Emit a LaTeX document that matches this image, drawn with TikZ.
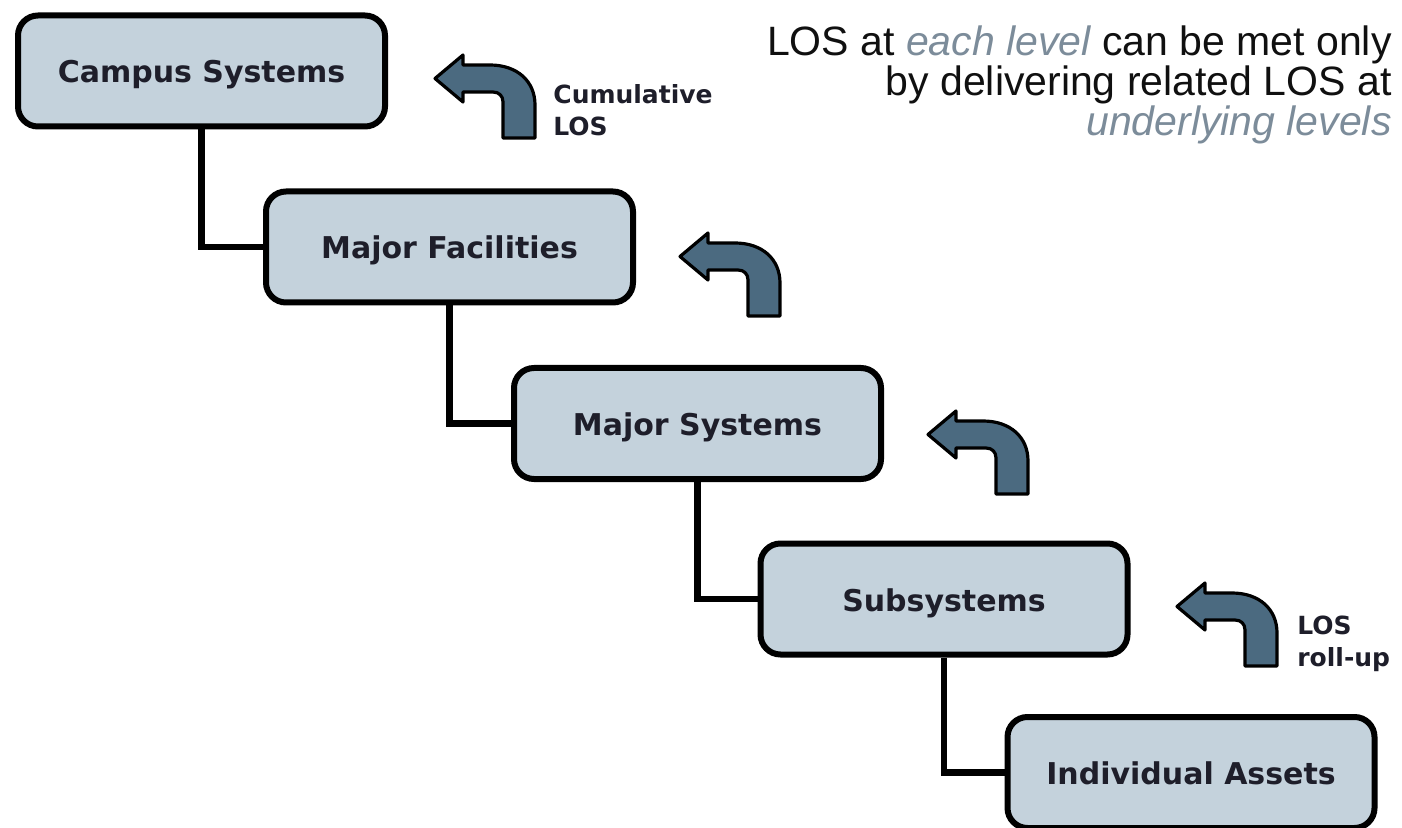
\documentclass[tikz,border=0pt]{standalone}
\usepackage{fontspec}
\setmainfont{DejaVu Sans}
\newfontfamily\headfont{Liberation Sans}
\definecolor{boxfill}{HTML}{C4D2DC}
\definecolor{arrowfill}{HTML}{4B6A80}
\definecolor{labeltext}{HTML}{1E1E2A}
\definecolor{accent}{HTML}{7C8C9A}
\definecolor{headtext}{HTML}{101010}
\begin{document}
\begin{tikzpicture}[x=0.5pt,y=-0.5pt,
  level/.style={draw=black, line width=3pt, rounded corners=10pt, fill=boxfill,
    minimum width=183.5pt, minimum height=55.5pt, inner sep=0pt,
    text height=13pt, text depth=1pt,
    font=\fontsize{15}{18}\selectfont\bfseries, text=labeltext},
  link/.style={draw=black, line width=3.2pt},
  note/.style={font=\fontsize{12.5}{16}\selectfont\bfseries, text=labeltext,
    align=left, inner sep=0pt, anchor=north west},
  rollup/.pic={
    \filldraw[fill=arrowfill, draw=black, line width=1.6pt, line join=round]
      (0,23.5) -- (28,0) -- (28,10) -- (55,10)
      .. controls (82,10) and (100,26) .. (100,50) -- (100,83) -- (68,83) -- (68,47)
      .. controls (68,41) and (64,37) .. (58,37) -- (28,37) -- (28,47) -- cycle;
  }]
\useasboundingbox (0,0) rectangle (1402,828);

% hierarchy levels
\node[level] (cs) at (201.5,71)  {Campus Systems};
\node[level] (mf) at (449.5,247) {Major Facilities};
\node[level] (ms) at (697.5,423.5) {Major Systems};
\node[level] (ss) at (944,599)   {Subsystems};
\node[level] (ia) at (1191,772.5) {Individual Assets};

% elbow connectors between levels
\draw[link] (cs.south) |- (mf.west);
\draw[link] (mf.south) |- (ms.west);
\draw[link] (ms.south) |- (ss.west);
\draw[link] (ss.south) |- (ia.west);

% roll-up arrows
\pic (r1) at (435,55)  {rollup};
\pic (r2) at (680,233) {rollup};
\pic (r3) at (928,411) {rollup};
\pic (r4) at (1177,583) {rollup};

% arrow labels
\node[note] (cum) at (553,84) {Cumulative\\LOS};
\node[note] (roll) at (1297,616) {LOS\\roll-up};

% headline
\node[inner sep=0pt, anchor=north east, align=right, text=headtext,
  font=\headfont\fontsize{20.5}{18.75}\selectfont] (head) at (1392,25)
  {LOS at {\color{accent}\itshape each level} can be met only\\
   by delivering related LOS at\\
   {\color{accent}\itshape underlying levels}};
\end{tikzpicture}
\end{document}
